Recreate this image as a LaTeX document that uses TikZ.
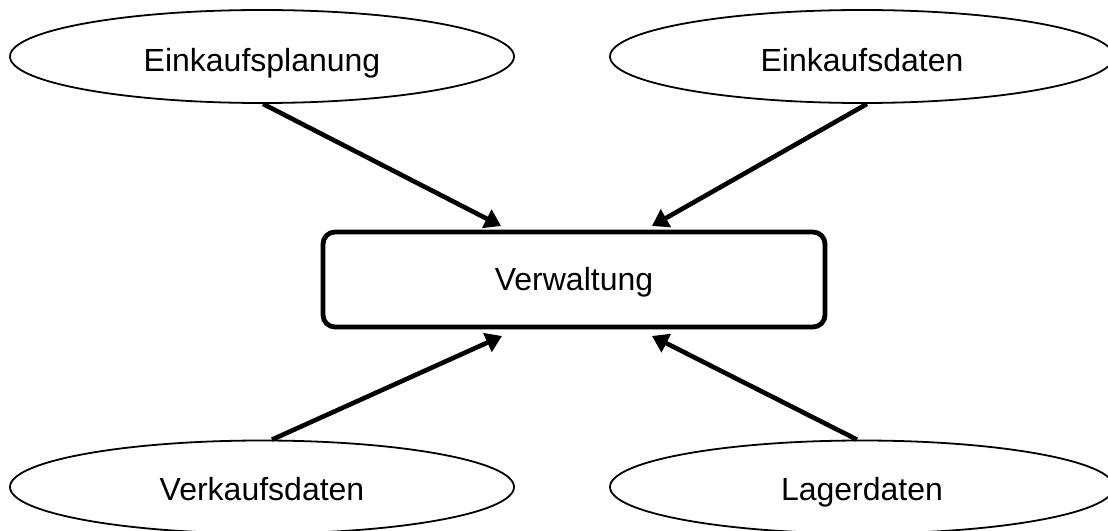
\documentclass[tikz,border=0pt]{standalone}
\usepackage{fontspec}
\setmainfont{Liberation Sans}
\usetikzlibrary{shapes.geometric,arrows.meta}
\begin{document}
\begin{tikzpicture}[x=1pt,y=-1pt,
  oval/.style={ellipse, draw=black, line width=1.8pt, inner sep=0pt,
    minimum width=504pt, minimum height=93pt, text depth=0pt,
    font=\fontsize{32}{36}\selectfont},
  mainbox/.style={draw=black, line width=4.8pt, rounded corners=12pt,
    minimum width=502pt, minimum height=95pt, inner sep=0pt,
    text height=21pt, text depth=0pt,
    font=\fontsize{32}{36}\selectfont},
  arr/.style={line width=4.6pt, -{Triangle[length=16pt,width=20pt]}}]
\useasboundingbox (0,0) rectangle (1108,530);
\clip (0,0) rectangle (1108,530);
\fill[white] (0,0) rectangle (1108,530);
\node[oval, text height=30pt] (ep) at (262,56.5) {Einkaufsplanung};
\node[oval, text height=30pt] (ed) at (862,56.5) {Einkaufsdaten};
\node[oval, text height=26pt] (vd) at (262,487) {Verkaufsdaten};
\node[oval, text height=26pt] (ld) at (862,487) {Lagerdaten};
\node[mainbox] (vw) at (574,279.5) {Verwaltung};
\coordinate (tl) at (501,226);
\coordinate (tr) at (652,226);
\coordinate (bl) at (502,336);
\coordinate (br) at (652,336);
\draw[arr] ([xshift=1pt]ep.south) -- (tl);
\draw[arr] ([xshift=5pt]ed.south) -- (tr);
\draw[arr] ([xshift=10pt]vd.north) -- (bl);
\draw[arr] ([xshift=-5pt]ld.north) -- (br);
\end{tikzpicture}
\end{document}
